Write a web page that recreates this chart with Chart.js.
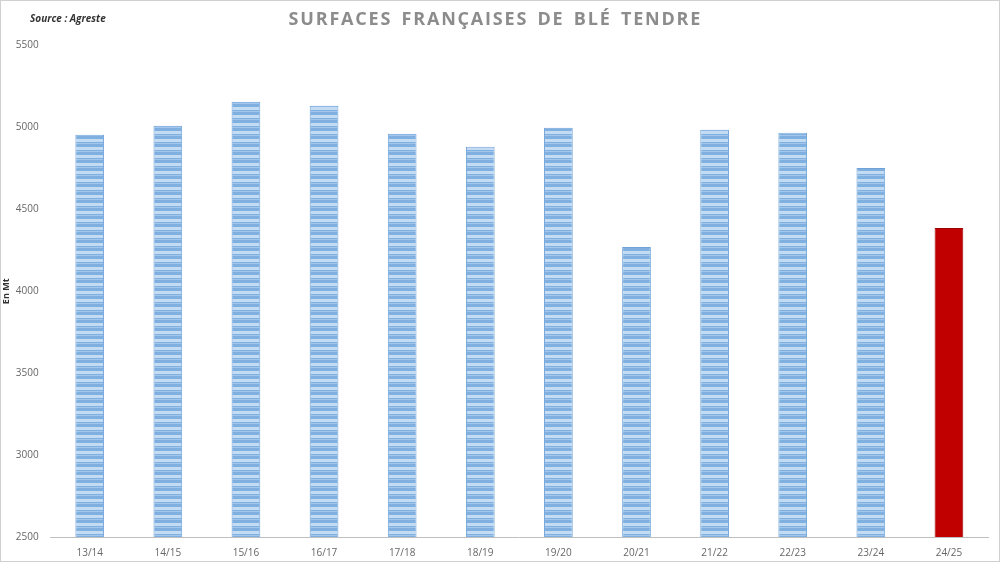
<!DOCTYPE html>
<html><head><meta charset="utf-8">
<script src="https://cdn.jsdelivr.net/npm/chart.js@4/dist/chart.umd.min.js"></script>
<style>
body{margin:0;background:#fff;}
#wrap{position:relative;width:998px;height:560px;border:1px solid #d0d0d0;}
#src{position:absolute;left:29px;top:10px;font:italic bold 10px "Open Sans",sans-serif;color:#333;}
</style></head><body>
<div id="wrap"><div id="src">Source : Agreste</div><canvas id="c" width="998" height="560"></canvas></div>
<script>
const categories = ['13/14','14/15','15/16','16/17','17/18','18/19','19/20','20/21','21/22','22/23','23/24','24/25'];
const surfaces = [4955, 5010, 5157, 5133, 4962, 4882, 4998, 4270, 4986, 4968, 4753, 4386];

// motif rayé bleu pour les barres
const pc = document.createElement('canvas');
pc.width = 4; pc.height = 8;
const p = pc.getContext('2d');
p.fillStyle = '#7fb0e0'; p.fillRect(0,0,4,8);
p.fillStyle = '#c4dcf3'; p.fillRect(0,2,4,3);
p.fillStyle = '#a3c7ec'; p.fillRect(0,6,4,1);
const ctx = document.getElementById('c').getContext('2d');
const stripes = ctx.createPattern(pc, 'repeat');

const colors = surfaces.map((v, i) => i === surfaces.length - 1 ? '#c00000' : stripes);
const borders = surfaces.map((v, i) => i === surfaces.length - 1 ? '#a00000' : '#6fa3d8');

new Chart(ctx, {
    type: 'bar',
    data: {
        labels: categories,
        datasets: [{
            data: surfaces,
            backgroundColor: colors,
            borderColor: borders,
            borderWidth: 1,
            categoryPercentage: 0.75,
            barPercentage: 0.49
        }]
    },
    options: {
        responsive: false,
        animation: false,
        layout: { padding: { left: 0, right: 11, top: 0, bottom: 0 } },
        plugins: {
            legend: { display: false },
            tooltip: { enabled: false },
            title: {
                display: true,
                text: 'S U R F A C E S   F R A N Ç A I S E S   D E   B L É   T E N D R E'.replace(/ (?! )/g, '\u200A'),
                color: '#8c8c8c',
                font: { family: 'Open Sans', size: 18, weight: 'bold' },
                padding: { top: 8, bottom: 15 }
            }
        },
        scales: {
            y: {
                min: 2500, max: 5500,
                ticks: { stepSize: 500, color: '#666', font: { family: 'Open Sans', size: 10 }, padding: 4,
                         callback: v => String(v) },
                grid: { display: false },
                border: { display: false },
                title: { display: true, text: 'En Mt', color: '#333', font: { family: 'Open Sans', size: 9, weight: 'bold' }, padding: 0 }
            },
            x: {
                ticks: { color: '#666', font: { family: 'Open Sans', size: 10 }, padding: 2 },
                grid: { display: false },
                border: { color: '#bfbfbf' }
            }
        }
    }
});
</script>
</body></html>
